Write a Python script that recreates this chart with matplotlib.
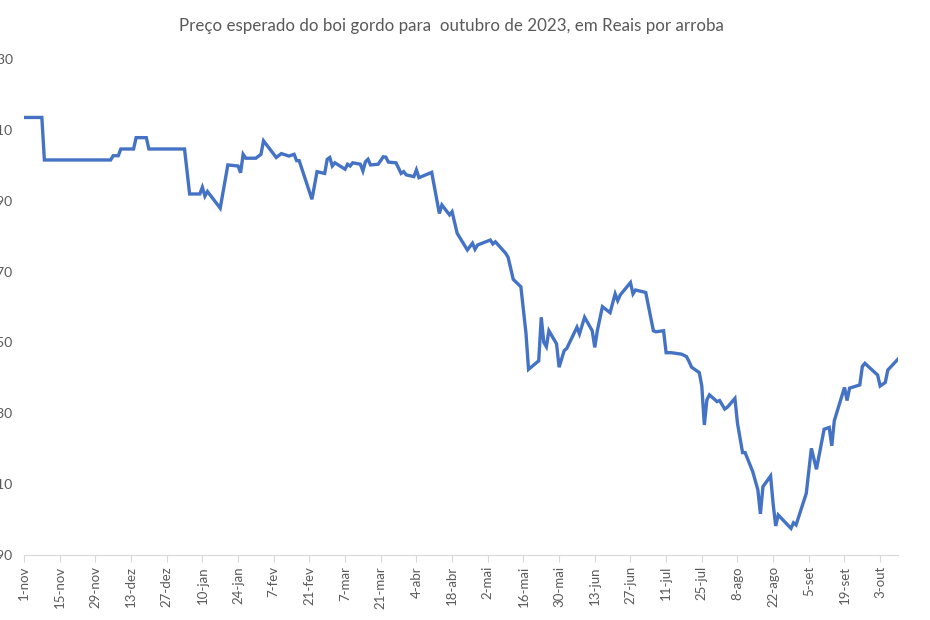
#!/usr/bin/env python3

"""Preço esperado do boi gordo para outubro de 2023."""

import matplotlib
matplotlib.use('Agg')
import matplotlib.pyplot as plt
import pandas as pd

datas = [
    '2022-11-01', '2022-11-08', '2022-11-09', '2022-12-05', '2022-12-06', '2022-12-08',
    '2022-12-09', '2022-12-14', '2022-12-15', '2022-12-19', '2022-12-20', '2023-01-03',
    '2023-01-05', '2023-01-09', '2023-01-10', '2023-01-11', '2023-01-12', '2023-01-17',
    '2023-01-20', '2023-01-24', '2023-01-25', '2023-01-26', '2023-01-27', '2023-01-31',
    '2023-02-02', '2023-02-03', '2023-02-08', '2023-02-10', '2023-02-13', '2023-02-15',
    '2023-02-16', '2023-02-17', '2023-02-22', '2023-02-24', '2023-02-27', '2023-02-28',
    '2023-03-01', '2023-03-02', '2023-03-03', '2023-03-07', '2023-03-08', '2023-03-09',
    '2023-03-10', '2023-03-13', '2023-03-14', '2023-03-15', '2023-03-16', '2023-03-17',
    '2023-03-20', '2023-03-22', '2023-03-23', '2023-03-24', '2023-03-27', '2023-03-29',
    '2023-03-30', '2023-03-31', '2023-04-03', '2023-04-04', '2023-04-05', '2023-04-10',
    '2023-04-13', '2023-04-14', '2023-04-17', '2023-04-18', '2023-04-20', '2023-04-24',
    '2023-04-26', '2023-04-27', '2023-04-28', '2023-05-03', '2023-05-04', '2023-05-05',
    '2023-05-09', '2023-05-10', '2023-05-12', '2023-05-15', '2023-05-17', '2023-05-18',
    '2023-05-22', '2023-05-23', '2023-05-24', '2023-05-25', '2023-05-26', '2023-05-29',
    '2023-05-30', '2023-06-01', '2023-06-02', '2023-06-06', '2023-06-07', '2023-06-09',
    '2023-06-12', '2023-06-13', '2023-06-14', '2023-06-16', '2023-06-19', '2023-06-21',
    '2023-06-22', '2023-06-23', '2023-06-27', '2023-06-28', '2023-06-29', '2023-07-03',
    '2023-07-06', '2023-07-07', '2023-07-10', '2023-07-11', '2023-07-13', '2023-07-17',
    '2023-07-19', '2023-07-20', '2023-07-21', '2023-07-24', '2023-07-25', '2023-07-26',
    '2023-07-27', '2023-07-28', '2023-07-31', '2023-08-01', '2023-08-03', '2023-08-04',
    '2023-08-07', '2023-08-08', '2023-08-10', '2023-08-11', '2023-08-14', '2023-08-16',
    '2023-08-17', '2023-08-18', '2023-08-21', '2023-08-22', '2023-08-23', '2023-08-24',
    '2023-08-29', '2023-08-30', '2023-08-31', '2023-09-04', '2023-09-06', '2023-09-08',
    '2023-09-11', '2023-09-13', '2023-09-14', '2023-09-15', '2023-09-19', '2023-09-20',
    '2023-09-21', '2023-09-25', '2023-09-26', '2023-09-27', '2023-10-02', '2023-10-03',
    '2023-10-05', '2023-10-06', '2023-10-10',
]

precos = [
    313.5, 313.5, 301.5, 301.5, 302.7, 302.7,
    304.6, 304.6, 307.8, 307.8, 304.6, 304.6,
    291.9, 291.9, 293.8, 291.3, 292.6, 287.9,
    300.1, 299.8, 297.9, 303.1, 302.0, 302.0,
    303.1, 306.9, 302.2, 303.3, 302.6, 303.1,
    301.3, 301.3, 290.4, 298.2, 297.7, 301.7,
    302.2, 299.8, 300.7, 298.9, 300.3, 299.8,
    300.7, 300.3, 298.4, 301.0, 301.7, 300.1,
    300.3, 302.4, 302.3, 300.9, 300.7, 297.7,
    298.2, 297.3, 296.8, 298.7, 296.5, 298.0,
    286.4, 288.8, 286.0, 286.9, 280.8, 276.1,
    278.0, 276.3, 277.5, 278.9, 277.8, 278.4,
    275.2, 274.0, 267.8, 265.7, 252.6, 242.4,
    244.8, 257.1, 250.0, 248.8, 253.3, 249.6,
    243.0, 247.7, 248.3, 254.3, 252.4, 257.1,
    253.3, 248.6, 253.3, 260.1, 258.4, 263.7,
    261.8, 263.4, 266.9, 263.7, 264.8, 264.1,
    253.3, 253.0, 253.3, 247.1, 247.1, 246.7,
    246.0, 244.6, 243.0, 241.5, 237.7, 226.7,
    233.8, 235.2, 233.3, 233.6, 231.2, 231.7,
    234.2, 227.2, 218.9, 218.9, 213.5, 208.4,
    201.6, 209.3, 212.3, 204.4, 198.2, 201.3,
    197.5, 199.1, 198.5, 207.4, 220.1, 214.2,
    225.5, 226.0, 220.8, 227.9, 237.3, 233.6,
    237.1, 238.0, 243.2, 244.1, 240.8, 237.7,
    238.7, 242.2, 245.3,
]

meses = ['jan', 'fev', 'mar', 'abr', 'mai', 'jun',
         'jul', 'ago', 'set', 'out', 'nov', 'dez']
y_ticks = [190, 210, 230, 250, 270, 290, 310, 330]

plt.rcParams['font.family'] = ['Lato', 'DejaVu Sans']


def main():
    x = pd.to_datetime(datas)
    fig = plt.figure(figsize=(9.3, 6.2), dpi=100)
    ax = fig.add_axes([24 / 930, 1 - 555 / 620, 874 / 930, 496 / 620])

    ax.plot(x, precos, color='#4472C4', linewidth=2.4, solid_joinstyle='miter')

    inicio = pd.Timestamp('2022-11-01')
    fim = pd.Timestamp('2023-10-10')
    ax.set_xlim(inicio, fim)
    ax.set_ylim(190, 330)

    # ticks a cada 14 dias, como no eixo do Excel
    ticks = pd.date_range(inicio, fim, freq='14D')
    ax.set_xticks(ticks)
    ax.set_xticklabels([f'{d.day}-{meses[d.month - 1]}' for d in ticks],
                       rotation=90, fontsize=9.5, color='#595959')
    ax.set_yticks(y_ticks)
    ax.set_yticklabels([str(v) for v in y_ticks], fontsize=10, color='#595959')

    for s in ['top', 'right', 'left']:
        ax.spines[s].set_visible(False)
    ax.spines['bottom'].set_color('#d9d9d9')
    ax.tick_params(axis='x', length=5, color='#d9d9d9', pad=3)
    ax.tick_params(axis='y', length=0, pad=8)

    fig.text(0.485, 0.958, 'Preço esperado do boi gordo para  outubro de 2023, em Reais por arroba',
             ha='center', va='center', fontsize=12.2, color='#595959')

    fig.savefig('out.png', dpi=100)


if __name__ == '__main__':
    main()
